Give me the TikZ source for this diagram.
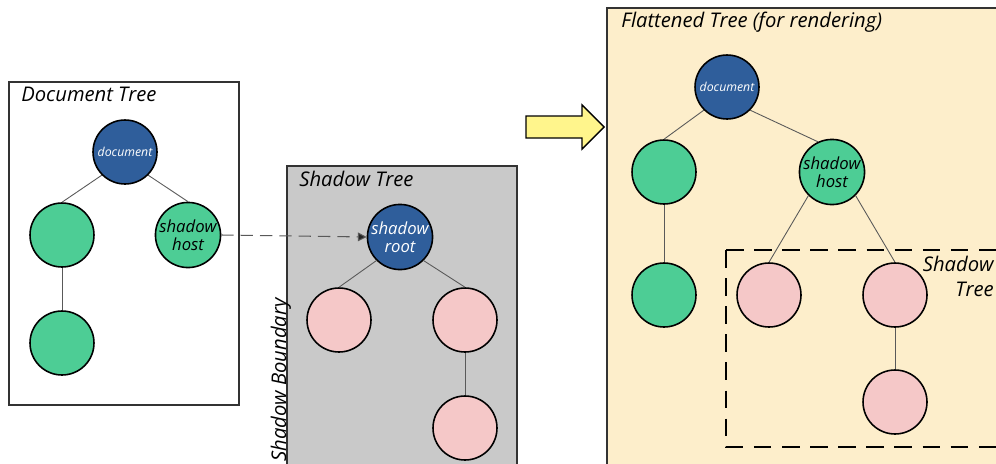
\documentclass[tikz,border=0pt]{standalone}
\usepackage{fontspec}
\setmainfont{Open Sans}
\usetikzlibrary{arrows.meta}
\definecolor{rootblue}{HTML}{2F5E9B}
\definecolor{hostgreen}{HTML}{4DCD95}
\definecolor{shadowpink}{HTML}{F5C8C8}
\definecolor{shadowgray}{HTML}{C9C9C9}
\definecolor{flatbg}{HTML}{FDEECB}
\definecolor{flowyellow}{HTML}{FFF58C}
\begin{document}
\begin{tikzpicture}[x=0.02cm, y=-0.02cm,
  every node/.style={font=\itshape},
  title/.style={anchor=base west, inner sep=0pt, font=\itshape\fontsize{11.5}{14}\selectfont},
  tnode/.style={circle, draw, line width=0.9pt, minimum size=1.28cm, inner sep=0pt, align=center},
  docnode/.style={tnode, fill=rootblue, text=white, font=\itshape\fontsize{7}{8}\selectfont},
  rootnode/.style={tnode, fill=rootblue, text=white, font=\itshape\fontsize{9.5}{10.5}\selectfont},
  greennode/.style={tnode, fill=hostgreen, font=\itshape\fontsize{9.5}{10.5}\selectfont},
  pinknode/.style={tnode, fill=shadowpink},
  link/.style={draw=black!65, line width=0.5pt},
  frame/.style={draw=black!80, line width=0.7pt}]
\useasboundingbox (0,0) rectangle (996,463);
\clip (0,0) rectangle (996,463);
% Document tree
\draw[frame, fill=white] (9,82) rectangle (239,405);
\node[title] (doctitle) at (21,101) {Document Tree};
\node[docnode] (doc) at (125,152) {document};
\node[greennode] (dleft) at (62,235) {};
\node[greennode] (host) at (188,235) {shadow\\host};
\node[greennode] (dbottom) at (62,343) {};
\draw[link] (doc.south west) -- (dleft.north);
\draw[link] (doc.south east) -- (host.north);
\draw[link] (dleft.south) -- (dbottom.north);
% Shadow tree
\draw[frame, fill=shadowgray] (287,166) rectangle (517,480);
\node[title] (shadowtitle) at (299,186) {Shadow Tree};
\node[title, rotate=90] (boundary) at (286,462) {Shadow Boundary};
\node[rootnode] (root) at (400,237) {shadow\\root};
\node[pinknode] (sleft) at (339,320) {};
\node[pinknode] (sright) at (465,320) {};
\node[pinknode] (sbottom) at (465,428) {};
\draw[link] (root.south west) -- (sleft.north);
\draw[link] (root.south east) -- (sright.north);
\draw[link] (sright.south) -- (sbottom.north);
\draw[black!65, line width=0.6pt, dash pattern=on 7pt off 4pt, -{Triangle[length=5pt,width=5pt,fill=black!85]}] (host.east) -- (root.west);
% Flow arrow
\draw[line width=0.8pt, fill=flowyellow, line join=miter] (526,116) -- (582,116) -- (582,105) -- (604,127) -- (582,149) -- (582,138) -- (526,138) -- cycle;
% Flattened tree
\draw[frame, fill=flatbg] (607,8) rectangle (1010,480);
\node[title] (flattitle) at (621,28) {Flattened Tree (for rendering)};
\draw[line width=0.9pt, dash pattern=on 10pt off 6pt] (726,250) -- (726,447) -- (1010,447);
\draw[line width=0.9pt, dash pattern=on 10pt off 6pt] (726,250) -- (1010,250);
\node[anchor=north east, align=right, inner sep=0pt, font=\itshape\fontsize{11.5}{14}\selectfont] (flatshadow) at (994,256) {Shadow\\Tree};
\node[docnode] (fdoc) at (727,87) {document};
\node[greennode] (fleft) at (664,172) {};
\node[greennode] (fhost) at (832,172) {shadow\\host};
\node[greennode] (fbottom) at (664,295) {};
\node[pinknode] (fsleft) at (769,295) {};
\node[pinknode] (fsright) at (895,295) {};
\node[pinknode] (fsbottom) at (895,402) {};
\draw[link] (fdoc.south west) -- (fleft.north);
\draw[link] (fdoc.south east) -- (fhost.115);
\draw[link] (fleft.south) -- (fbottom.north);
\draw[link] (fhost.south west) -- (fsleft.north);
\draw[link] (fhost.south east) -- (fsright.north);
\draw[link] (fsright.south) -- (fsbottom.north);
\end{tikzpicture}
\end{document}
